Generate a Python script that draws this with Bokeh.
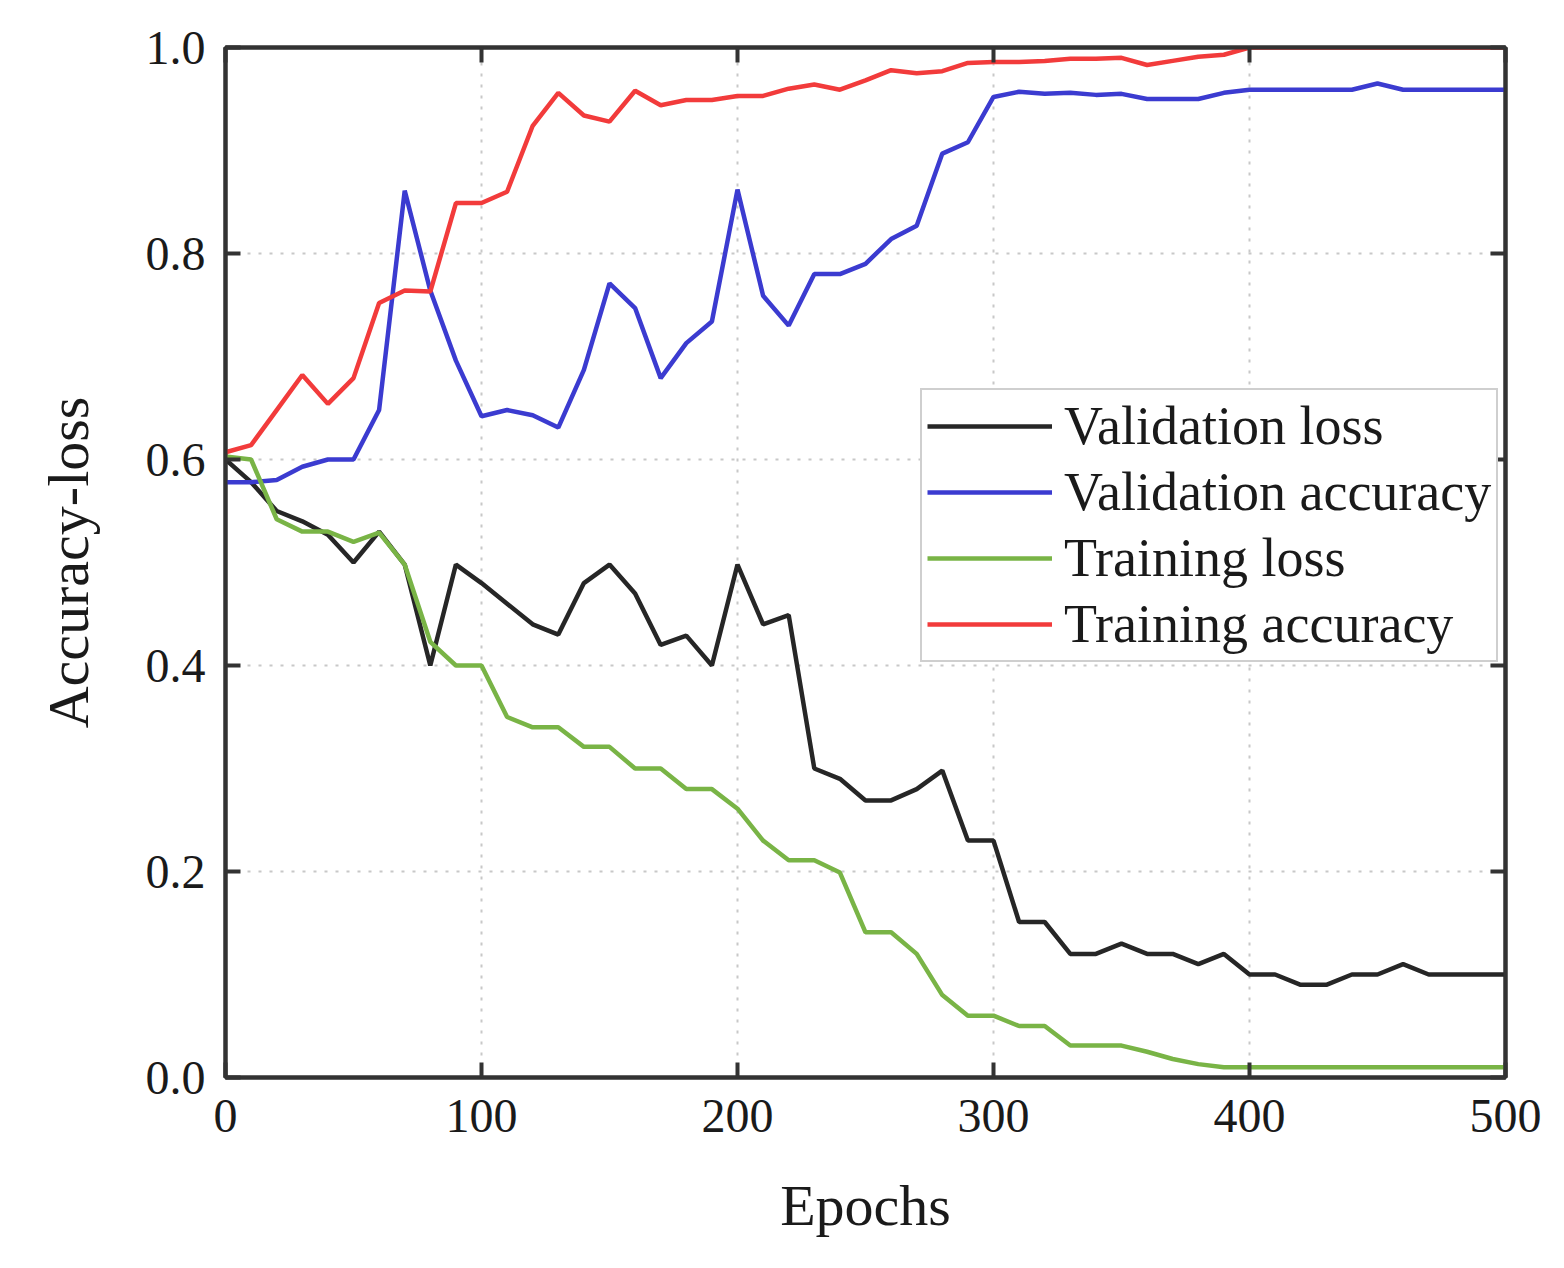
from bokeh.plotting import figure
from bokeh.models import Range1d, LinearAxis, FixedTicker, NumeralTickFormatter
from bokeh.embed import file_html
from bokeh.resources import INLINE

# values, one point every 10 epochs
epochs = [0, 10, 20, 30, 40, 50, 60, 70, 80, 90,
          100, 110, 120, 130, 140, 150, 160, 170, 180, 190,
          200, 210, 220, 230, 240, 250, 260, 270, 280, 290,
          300, 310, 320, 330, 340, 350, 360, 370, 380, 390,
          400, 410, 420, 430, 440, 450, 460, 470, 480, 490, 500]

val_loss = [0.600, 0.578, 0.550, 0.540, 0.527, 0.500, 0.530, 0.498, 0.400, 0.498,
            0.480, 0.460, 0.440, 0.430, 0.480, 0.498, 0.470, 0.420, 0.429, 0.400,
            0.498, 0.440, 0.449, 0.300, 0.290, 0.269, 0.269, 0.280, 0.298, 0.230,
            0.230, 0.151, 0.151, 0.120, 0.120, 0.130, 0.120, 0.120, 0.110, 0.120,
            0.100, 0.100, 0.090, 0.090, 0.100, 0.100, 0.110, 0.100, 0.100, 0.100, 0.100]

val_acc = [0.578, 0.578, 0.580, 0.593, 0.600, 0.600, 0.648, 0.861, 0.764, 0.696,
           0.642, 0.648, 0.643, 0.631, 0.687, 0.771, 0.747, 0.679, 0.713, 0.734,
           0.862, 0.759, 0.730, 0.780, 0.780, 0.790, 0.814, 0.827, 0.897, 0.908,
           0.952, 0.957, 0.955, 0.956, 0.954, 0.955, 0.950, 0.950, 0.950, 0.956,
           0.959, 0.959, 0.959, 0.959, 0.959, 0.965, 0.959, 0.959, 0.959, 0.959, 0.959]

train_loss = [0.603, 0.600, 0.542, 0.530, 0.530, 0.520, 0.529, 0.498, 0.423, 0.400,
              0.400, 0.350, 0.340, 0.340, 0.321, 0.321, 0.300, 0.300, 0.280, 0.280,
              0.261, 0.230, 0.211, 0.211, 0.199, 0.141, 0.141, 0.120, 0.080, 0.060,
              0.060, 0.050, 0.050, 0.031, 0.031, 0.031, 0.025, 0.018, 0.013, 0.010,
              0.010, 0.010, 0.010, 0.010, 0.010, 0.010, 0.010, 0.010, 0.010, 0.010, 0.010]

train_acc = [0.607, 0.614, 0.648, 0.682, 0.654, 0.679, 0.752, 0.764, 0.763, 0.849,
             0.849, 0.860, 0.924, 0.956, 0.934, 0.928, 0.958, 0.944, 0.949, 0.949,
             0.953, 0.953, 0.960, 0.964, 0.959, 0.968, 0.978, 0.975, 0.977, 0.985,
             0.986, 0.986, 0.987, 0.989, 0.989, 0.990, 0.983, 0.987, 0.991, 0.993,
             1.000, 1.000, 1.000, 1.000, 1.000, 1.000, 1.000, 1.000, 1.000, 1.000, 1.000]

x_ticks = [0, 100, 200, 300, 400, 500]
y_ticks = [0.0, 0.2, 0.4, 0.6, 0.8, 1.0]

FONT = "Liberation Serif"
FRAME = "#333333"

p = figure(width=1548, height=1240, output_backend="svg", toolbar_location=None,
           x_range=Range1d(0, 500), y_range=Range1d(0, 1),
           min_border_left=225, min_border_right=43, min_border_top=47, min_border_bottom=163)

p.line(epochs, val_loss, color="#262626", line_width=4.5, legend_label="Validation loss")
p.line(epochs, val_acc, color="#3b3bd0", line_width=4.5, legend_label="Validation accuracy")
p.line(epochs, train_loss, color="#79b446", line_width=4.5, legend_label="Training loss")
p.line(epochs, train_acc, color="#f23b3b", line_width=4.5, legend_label="Training accuracy")

xbot = p.below[0]
yleft = p.left[0]

# top and right axes only carry the inward ticks, no labels
xtop = LinearAxis()
yright = LinearAxis()
p.add_layout(xtop, "above")
p.add_layout(yright, "right")

for ax in (xbot, xtop):
    ax.ticker = FixedTicker(ticks=x_ticks)
    ax.formatter = NumeralTickFormatter(format="0")
for ax in (yleft, yright):
    ax.ticker = FixedTicker(ticks=y_ticks)
    ax.formatter = NumeralTickFormatter(format="0.0")

for ax in (xbot, xtop, yleft, yright):
    ax.axis_line_color = FRAME
    ax.axis_line_width = 4
    ax.major_tick_line_color = FRAME
    ax.major_tick_line_width = 4
    ax.major_tick_in = 15
    ax.major_tick_out = 0
    ax.minor_tick_line_color = None
    ax.major_label_text_font = FONT
    ax.major_label_text_font_size = "48px"
    ax.major_label_text_color = "#1a1a1a"
    ax.axis_label_text_font = FONT
    ax.axis_label_text_font_size = "58px"
    ax.axis_label_text_font_style = "normal"
    ax.axis_label_text_color = "#1a1a1a"

for ax in (xtop, yright):
    ax.major_label_text_color = None
    ax.major_label_text_font_size = "2px"
    ax.major_label_standoff = 0

xbot.axis_label = "Epochs"
xbot.major_label_standoff = 22
xbot.axis_label_standoff = 38
yleft.axis_label = "Accuracy-loss"
yleft.major_label_standoff = 20
yleft.axis_label_standoff = 42

p.outline_line_color = FRAME
p.outline_line_width = 4

p.xgrid.ticker = FixedTicker(ticks=x_ticks)
p.ygrid.ticker = FixedTicker(ticks=y_ticks)
p.grid.grid_line_color = "#c8c8c8"
p.grid.grid_line_width = 2
p.grid.grid_line_dash = "3 8"

p.legend.location = (695, 415)
p.legend.label_text_font = FONT
p.legend.label_text_font_size = "54px"
p.legend.label_text_color = "#1a1a1a"
p.legend.glyph_width = 125
p.legend.glyph_height = 54
p.legend.label_height = 54
p.legend.spacing = 4
p.legend.padding = 5
p.legend.margin = 0
p.legend.label_standoff = 12
p.legend.border_line_color = "#a0a0a0"
p.legend.border_line_width = 2
p.legend.background_fill_alpha = 1.0

open("out.html", "w").write(file_html(p, INLINE))
